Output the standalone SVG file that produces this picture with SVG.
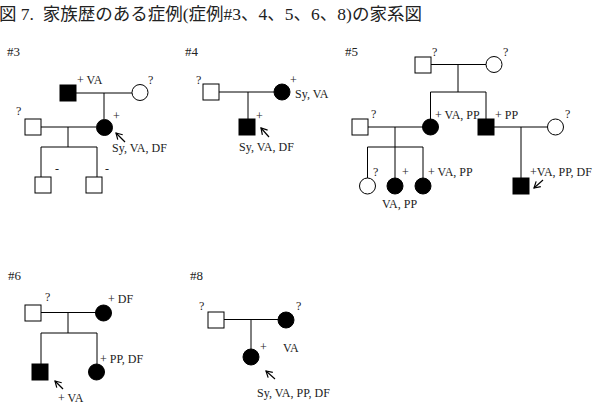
<svg xmlns="http://www.w3.org/2000/svg" width="601" height="414" viewBox="0 0 601 414">
<defs>
<marker id="ah" markerWidth="10" markerHeight="10" refX="8" refY="5" orient="auto" markerUnits="userSpaceOnUse">
<polyline points="2,1.5 8,5 2,8.5" fill="none" stroke="#000" stroke-width="1.2"/>
</marker>
</defs>
<style>
text{font-family:'Liberation Serif','Times New Roman',serif;font-size:12px;fill:#222}
.h{font-size:13px}
.t{font-size:17.5px;font-family:'Liberation Serif','Noto Sans CJK JP',serif}
.o{fill:#fff;stroke:#000;stroke-width:1}
.f{fill:#000;stroke:#000;stroke-width:1}
.l{stroke:#000;stroke-width:1;fill:none}
.a{stroke:#000;stroke-width:1.2;fill:none}
</style>
<rect width="601" height="414" fill="#fff"/>
<text class="t" x="-1" y="20" font-family="Liberation Serif, Noto Sans CJK JP, serif" xml:space="preserve">図 7.  家族歴のある症例(症例#3、4、5、6、8)の家系図</text>

<g id="connectors">
<path class="l" d="M76,93H132 M104,93V119 M41,127H96 M68,127V147 M41,147H97 M41,147V177 M97,147V177"/>
<path class="l" d="M218,92H274 M248,92V119"/>
<path class="l" d="M431,64.5H486 M458,64.5V92 M430.5,92H486 M430.5,92V119 M486,92V119 M367,127H423 M395,127V147 M367.5,147H423 M367.5,147V178 M395,147V178 M423,147V178 M494,127H548 M521,127V178"/>
<path class="l" d="M41,312.5H96 M68,312.5V333 M41,333H97 M41,333V364 M97,333V364"/>
<path class="l" d="M224,319.5H278 M251,319.5V349"/>
<line class="a" x1="125" y1="142" x2="116" y2="133" marker-end="url(#ah)"/>
<line class="a" x1="269" y1="137" x2="261" y2="128" marker-end="url(#ah)"/>
<line class="a" x1="543" y1="180" x2="534" y2="188" marker-end="url(#ah)"/>
<line class="a" x1="63" y1="389" x2="55" y2="381" marker-end="url(#ah)"/>
<line class="a" x1="275" y1="379" x2="266" y2="371" marker-end="url(#ah)"/>
</g>

<g font-family="Liberation Serif, Times New Roman, serif">
<g id="p3">
<text class="h" x="7" y="56">#3</text>
<g id="p3-gf"><rect class="f" x="60" y="85" width="16" height="16"/><text x="77" y="84">+ VA</text></g>
<g id="p3-gm"><circle class="o" cx="140" cy="92.5" r="8"/><text x="148" y="84">?</text></g>
<g id="p3-f"><rect class="o" x="25" y="119" width="16" height="16"/><text x="16" y="115">?</text></g>
<g id="p3-m"><circle class="f" cx="104.5" cy="127.5" r="8"/><text x="113" y="120">+</text><text x="112" y="152">Sy, VA, DF</text></g>
<g id="p3-c1"><rect class="o" x="35" y="177" width="16" height="16"/><text x="55" y="173">-</text></g>
<g id="p3-c2"><rect class="o" x="86" y="177" width="16" height="16"/><text x="105" y="173">-</text></g>
</g>

<g id="p4">
<text class="h" x="185" y="56">#4</text>
<g id="p4-f"><rect class="o" x="203" y="84" width="16" height="16"/><text x="196" y="84">?</text></g>
<g id="p4-m"><circle class="f" cx="282" cy="92" r="8"/><text x="290" y="84">+</text><text x="295" y="98">Sy, VA</text></g>
<g id="p4-c"><rect class="f" x="239" y="119" width="16" height="16"/><text x="256" y="120">+</text><text x="239" y="151">Sy, VA, DF</text></g>
</g>

<g id="p5">
<text class="h" x="345" y="56">#5</text>
<g id="p5-gf"><rect class="o" x="415" y="57" width="16" height="16"/><text x="432" y="56">?</text></g>
<g id="p5-gm"><circle class="o" cx="494" cy="64.5" r="8"/><text x="503" y="56">?</text></g>
<g id="p5-f"><rect class="o" x="352" y="119" width="16" height="16"/><text x="371" y="118">?</text></g>
<g id="p5-m"><circle class="f" cx="430.5" cy="127" r="8"/><text x="435" y="119">+ VA, PP</text></g>
<g id="p5-u"><rect class="f" x="478" y="119" width="16" height="16"/><text x="495" y="119">+ PP</text></g>
<g id="p5-w"><circle class="o" cx="555.5" cy="127" r="8"/><text x="565" y="118">?</text></g>
<g id="p5-c1"><circle class="o" cx="367.5" cy="186" r="8"/><text x="373" y="176">?</text></g>
<g id="p5-c2"><circle class="f" cx="395" cy="186" r="8"/><text x="402" y="176">+</text></g>
<g id="p5-c3"><circle class="f" cx="423" cy="186" r="8"/><text x="428" y="176">+ VA, PP</text></g>
<text x="382" y="208">VA, PP</text>
<g id="p5-c4"><rect class="f" x="513" y="178" width="16" height="16"/><text x="530" y="176">+VA, PP, DF</text></g>
</g>

<g id="p6">
<text class="h" x="8" y="280">#6</text>
<g id="p6-f"><rect class="o" x="25" y="305" width="16" height="16"/><text x="45" y="301">?</text></g>
<g id="p6-m"><circle class="f" cx="103.5" cy="313" r="8"/><text x="108" y="303">+ DF</text></g>
<g id="p6-c1"><rect class="f" x="32" y="364" width="16" height="16"/><text x="58" y="402">+ VA</text></g>
<g id="p6-c2"><circle class="f" cx="96.5" cy="372" r="8"/><text x="100" y="363">+ PP, DF</text></g>
</g>

<g id="p8">
<text class="h" x="190" y="280">#8</text>
<g id="p8-f"><rect class="o" x="208" y="312" width="16" height="16"/><text x="199" y="310">?</text></g>
<g id="p8-m"><circle class="f" cx="286" cy="320" r="8"/><text x="296" y="310">?</text><text x="283" y="352">VA</text></g>
<g id="p8-c"><circle class="f" cx="251" cy="357" r="8"/><text x="260" y="351">+</text><text x="257" y="397">Sy, VA, PP, DF</text></g>
</g>
</g>
</svg>
